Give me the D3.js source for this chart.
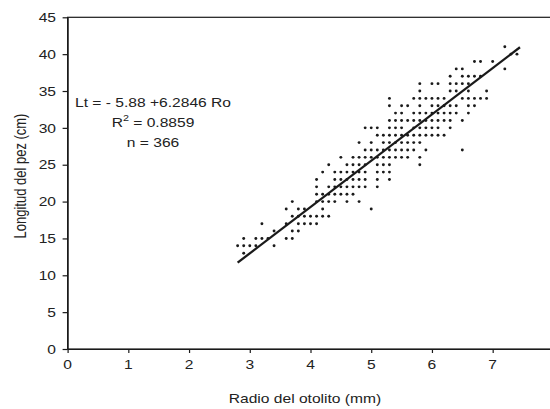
<!DOCTYPE html>
<html>
<head>
<meta charset="utf-8">
<script src="https://cdn.jsdelivr.net/npm/d3@7"></script>
<style>
  html, body { margin: 0; padding: 0; background: #fff; }
  svg { display: block; font-family: "Liberation Sans", Arial, sans-serif; }
</style>
</head>
<body>
<svg id="chart" width="550" height="409"></svg>
<script>
// Fish length (cm) against otolith radius (mm): one list of radii per length class
const lengthsCm = [13, 14, 15, 16, 17, 18, 19, 20, 21, 22, 23, 24, 25, 26, 27,
                   28, 29, 30, 31, 32, 33, 34, 35, 36, 37, 38, 39, 40, 41];
const radiiMm = [
  [2.9],
  [2.8, 2.9, 3.0, 3.1, 3.4],
  [2.9, 3.1, 3.2, 3.3, 3.6, 3.7],
  [3.4, 3.7, 3.8],
  [3.2, 3.6, 3.8, 3.9, 4.0, 4.1],
  [3.7, 3.8, 3.9, 4.0, 4.1, 4.2, 4.3],
  [3.6, 3.8, 3.9, 4.2, 5.0],
  [3.7, 4.1, 4.2, 4.3, 4.4, 4.6, 4.8],
  [4.1, 4.2, 4.3, 4.4, 4.5, 4.6, 4.7],
  [4.1, 4.3, 4.4, 4.5, 4.6, 4.7, 4.8, 4.9, 5.1],
  [4.1, 4.4, 4.5, 4.6, 4.7, 4.8, 4.9, 5.1, 5.3],
  [4.2, 4.4, 4.5, 4.6, 4.7, 4.8, 4.9, 5.1, 5.2, 5.3],
  [4.3, 4.6, 4.7, 4.8, 4.9, 5.1, 5.2, 5.3, 5.8],
  [4.5, 4.7, 4.8, 4.9, 5.0, 5.1, 5.2, 5.3, 5.4, 5.5, 5.6, 5.8],
  [4.9, 5.0, 5.1, 5.2, 5.3, 5.4, 5.5, 5.6, 5.7, 5.9, 6.5],
  [4.8, 5.0, 5.2, 5.3, 5.4, 5.5, 5.6, 5.7, 5.8],
  [5.1, 5.2, 5.3, 5.4, 5.5, 5.6, 5.7, 5.8, 5.9, 6.0, 6.1, 6.2],
  [4.9, 5.0, 5.1, 5.3, 5.4, 5.5, 5.7, 5.8, 5.9, 6.0, 6.1, 6.3],
  [5.3, 5.4, 5.5, 5.6, 5.7, 5.8, 5.9, 6.0, 6.1, 6.2, 6.3, 6.5],
  [5.4, 5.5, 5.7, 5.8, 5.9, 6.0, 6.1, 6.2, 6.3, 6.4, 6.6],
  [5.3, 5.5, 5.6, 5.8, 6.0, 6.1, 6.2, 6.3, 6.4, 6.6, 6.7],
  [5.3, 5.7, 5.8, 5.9, 6.0, 6.1, 6.2, 6.5, 6.6, 6.7, 6.8, 6.9],
  [5.8, 6.3, 6.4, 6.6, 6.9],
  [5.8, 6.0, 6.1, 6.3, 6.4, 6.5, 6.6],
  [6.3, 6.5, 6.6, 6.7, 6.8],
  [6.4, 6.5, 7.2],
  [6.7, 6.8, 7.0],
  [7.3, 7.4],
  [7.2]
];

// Fitted regression Lt = a + b * Ro and its reported statistics
const intercept = -5.88;
const slope = 6.2846;
const fitRange = [2.8, 7.45];
const equationLines = ["Lt = - 5.88 +6.2846 Ro", "R2 = 0.8859", "n = 366"];

const xTicks = [0, 1, 2, 3, 4, 5, 6, 7];
const yTicks = [0, 5, 10, 15, 20, 25, 30, 35, 40, 45];
const xTitle = "Radio del otolito (mm)";
const yTitle = "Longitud del pez (cm)";

const points = lengthsCm.flatMap((len, i) => radiiMm[i].map(r => ({ r, len })));

const svg = d3.select("#chart");
const ink = "#1a1a1a";
const textInk = "#222";
const fontSize = 13;
const sx = 1.2; // text is drawn slightly wide

const x = d3.scaleLinear().domain([0, 8]).range([67.6, 553.4]);
const y = d3.scaleLinear().domain([0, 45]).range([349, 17.3]);

function wideText(g, px, py) {
  return g.append("text")
    .attr("transform", `translate(${px},${py}) scale(${sx},1)`)
    .attr("font-size", fontSize)
    .attr("fill", textInk);
}

// plot frame (right edge runs off the canvas)
svg.append("rect")
  .attr("x", x(0)).attr("y", y(45))
  .attr("width", x(8) - x(0)).attr("height", y(0) - y(45))
  .attr("fill", "none").attr("stroke", ink).attr("stroke-width", 1.2);

// y axis
const yAxis = svg.append("g").attr("transform", `translate(${x(0)},0)`)
  .call(d3.axisLeft(y).tickValues(yTicks).tickSize(5).tickSizeOuter(0).tickFormat(""));
yAxis.select(".domain").attr("stroke", ink).attr("stroke-width", 1.2);
yAxis.selectAll(".tick line").attr("stroke", ink).attr("stroke-width", 1.2);
yTicks.forEach(v => {
  wideText(svg, 56, y(v)).attr("text-anchor", "end").attr("dy", "0.36em").text(v);
});

// x axis
const xAxis = svg.append("g").attr("transform", `translate(0,${y(0)})`)
  .call(d3.axisBottom(x).tickValues(xTicks).tickSize(4).tickSizeOuter(0).tickFormat(""));
xAxis.select(".domain").attr("stroke", ink).attr("stroke-width", 1.2);
xAxis.selectAll(".tick line").attr("stroke", ink).attr("stroke-width", 1.2);
xTicks.forEach(v => {
  wideText(svg, x(v), 368.5).attr("text-anchor", "middle").text(v);
});

// axis titles
wideText(svg, 305, 403).attr("text-anchor", "middle").text(xTitle);
svg.append("text")
  .attr("transform", `translate(26,176) scale(${sx},1) rotate(-90)`)
  .attr("font-size", fontSize).attr("fill", textInk)
  .attr("text-anchor", "middle").text(yTitle);

// observations
svg.append("g").selectAll("circle").data(points).join("circle")
  .attr("cx", d => x(d.r)).attr("cy", d => y(d.len))
  .attr("r", 1.45).attr("fill", ink);

// regression line
const fit = fitRange.map(r => ({ r, len: intercept + slope * r }));
svg.append("path")
  .datum(fit)
  .attr("d", d3.line().x(d => x(d.r)).y(d => y(d.len)))
  .attr("stroke", ink).attr("stroke-width", 2.3).attr("fill", "none");

// equation block
const eqX = 153;
wideText(svg, eqX, 106.7).attr("text-anchor", "middle").text(equationLines[0]);
const r2 = wideText(svg, eqX, 126.7).attr("text-anchor", "middle");
r2.append("tspan").text("R");
r2.append("tspan").attr("font-size", 9).attr("dy", -6).text("2");
r2.append("tspan").attr("dy", 6).text(" = 0.8859");
wideText(svg, eqX, 146.7).attr("text-anchor", "middle").text(equationLines[2]);
</script>
</body>
</html>
